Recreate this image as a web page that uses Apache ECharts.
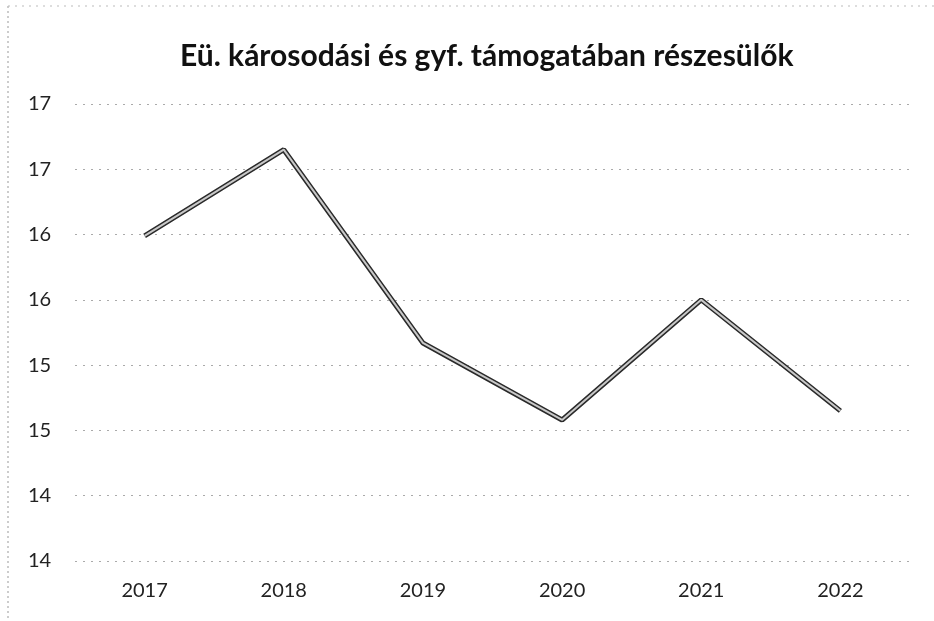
<!DOCTYPE html>
<html>
<head>
<meta charset="utf-8">
<script src="https://cdn.jsdelivr.net/npm/echarts@6/dist/echarts.min.js"></script>
<style>
  html, body { margin: 0; padding: 0; background: #fff; }
  #chart { width: 934px; height: 621px; }
</style>
</head>
<body>
<div id="chart"></div>
<script>
// évek
const years = ['2017', '2018', '2019', '2020', '2021', '2022']
// részesülők (leolvasott értékek)
const values = [16.49, 17.15, 15.67, 15.08, 16.0, 15.15]
// tengely
const yMin = 14
const yMax = 17.5
const yStep = 0.5

const chart = echarts.init(document.getElementById('chart'))

const font = 'Lato, "Open Sans", sans-serif'

const option = {
  backgroundColor: '#fff',
  animation: false,
  title: {
    text: 'Eü. károsodási és gyf. támogatában részesülők',
    left: 175,
    top: 36,
    textStyle: {
      fontFamily: font,
      fontSize: 30,
      fontWeight: 'bold',
      color: '#111'
    }
  },
  grid: {
    left: 75,
    right: 24,
    top: 104,
    bottom: 60
  },
  xAxis: {
    type: 'category',
    data: years,
    boundaryGap: true,
    axisLine: { show: false },
    axisTick: { show: false },
    axisLabel: {
      margin: 20,
      fontFamily: font,
      fontSize: 20,
      color: '#222'
    }
  },
  yAxis: {
    type: 'value',
    min: yMin,
    max: yMax,
    interval: yStep,
    axisLine: { show: false },
    axisTick: { show: false },
    axisLabel: {
      align: 'left',
      margin: 47,
      fontFamily: font,
      fontSize: 20,
      color: '#222',
      formatter: (v) => String(Math.floor(v))
    },
    splitLine: {
      lineStyle: {
        color: '#aaa',
        type: [2, 6],
        width: 1
      }
    }
  },
  series: [
    {
      // sötét kontúr
      type: 'line',
      data: values,
      symbol: 'none',
      lineStyle: { color: '#2a2a2a', width: 5 },
      z: 2
    },
    {
      // világos belső vonal
      type: 'line',
      data: values,
      symbol: 'none',
      lineStyle: { color: '#c8c8c8', width: 2 },
      z: 3
    }
  ],
  graphic: [
    {
      type: 'line',
      shape: { x1: 8, y1: 6, x2: 8, y2: 621 },
      style: { stroke: '#999', lineWidth: 1, lineDash: [2, 3] }
    },
    {
      type: 'line',
      shape: { x1: 8, y1: 6, x2: 934, y2: 6 },
      style: { stroke: '#bbb', lineWidth: 1, lineDash: [2, 5] }
    }
  ]
}

chart.setOption(option)
</script>
</body>
</html>
